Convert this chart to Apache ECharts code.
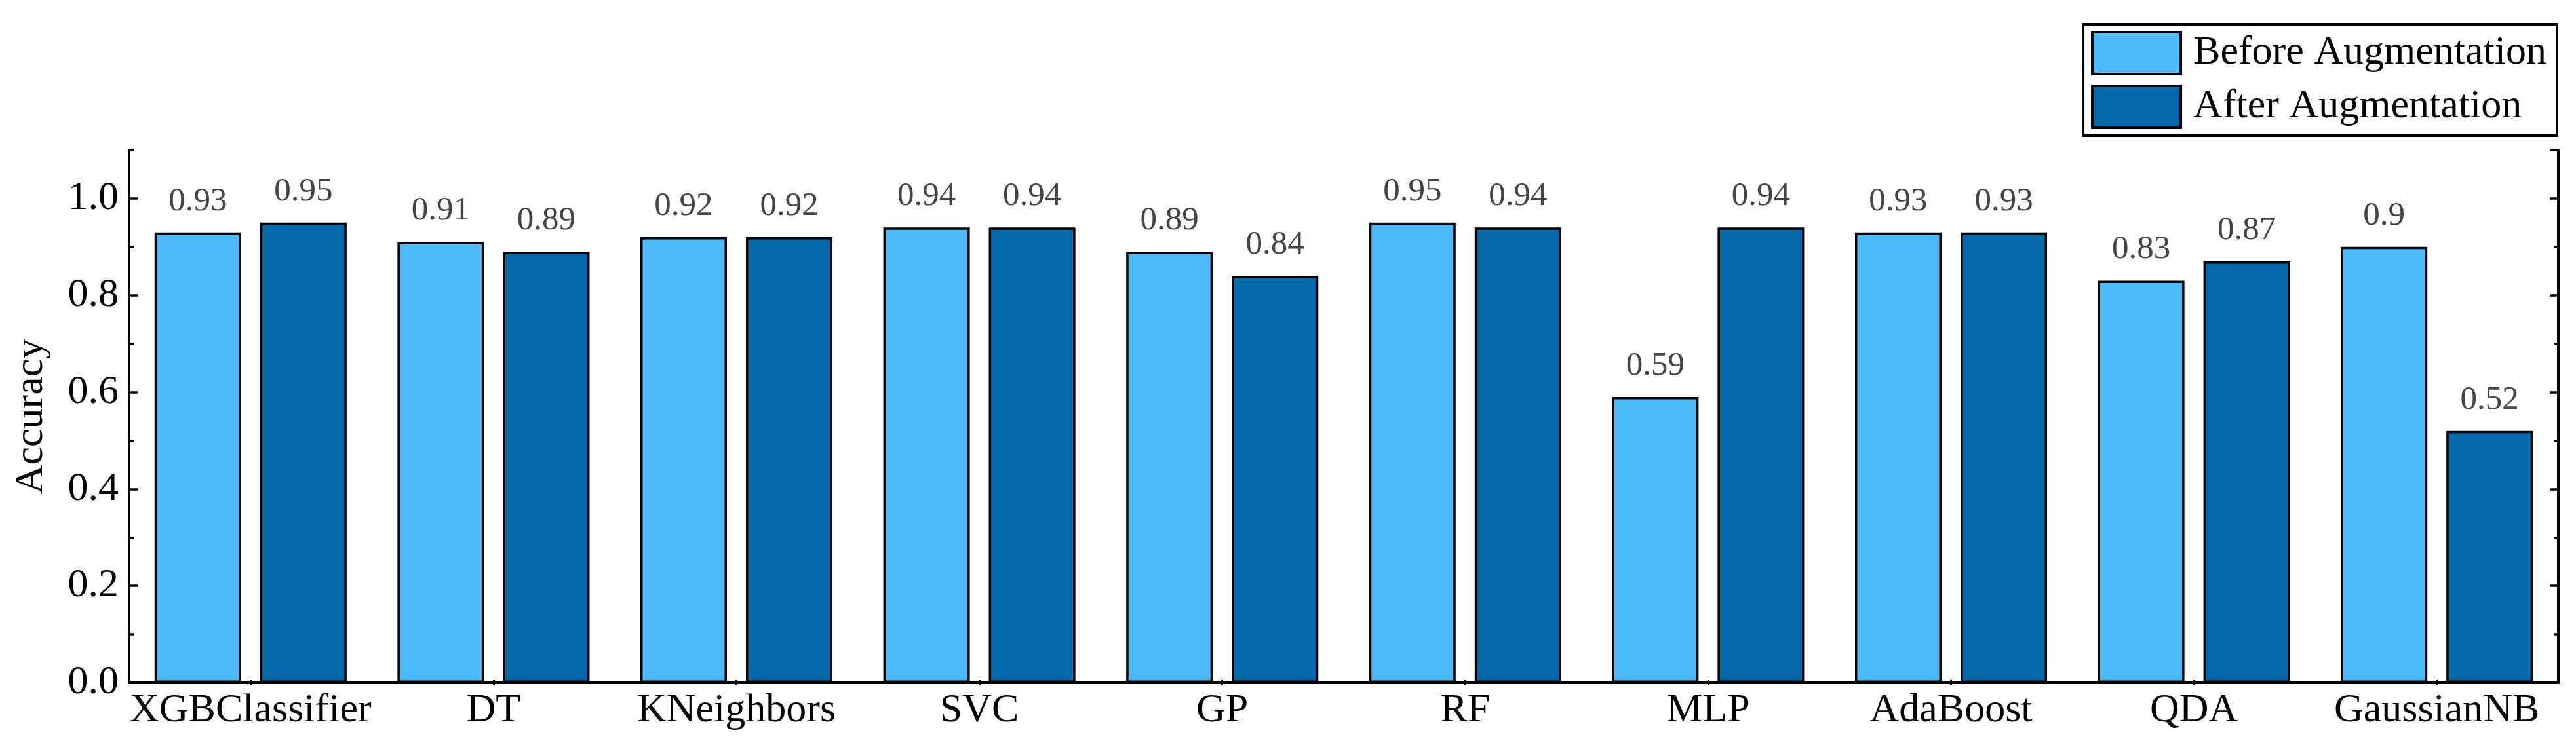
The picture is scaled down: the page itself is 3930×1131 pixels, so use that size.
<!DOCTYPE html>
<html>
<head>
<meta charset="utf-8">
<script src="https://cdn.jsdelivr.net/npm/echarts@6/dist/echarts.min.js"></script>
<style>
html,body{margin:0;padding:0;background:#fff;}
#chart{width:3930px;height:1131px;}
</style>
</head>
<body>
<div id="chart"></div>
<script>
const categories = ['XGBClassifier','DT','KNeighbors','SVC','GP','RF','MLP','AdaBoost','QDA','GaussianNB'];
const beforeAug = [0.93,0.91,0.92,0.94,0.89,0.95,0.59,0.93,0.83,0.9];
const afterAug  = [0.95,0.89,0.92,0.94,0.84,0.94,0.94,0.93,0.87,0.52];
const seriesNames = ['Before Augmentation','After Augmentation'];
const yTicks = [0,0.2,0.4,0.6,0.8,1.0];

const FONT = "'Liberation Serif','Times New Roman',serif";
const chart = echarts.init(document.getElementById('chart'), null, {renderer:'canvas'});

function yAx(pos, interval, len, withLabel, withLine){
  return {
    type:'value', position:pos, min:0, max:1.1, interval:interval,
    axisLine:{show:withLine, lineStyle:{color:'#000', width:4}},
    axisTick:{show:true, inside:true, length:len, lineStyle:{color:'#000', width:3.5}},
    axisLabel:{show:withLabel, showMaxLabel:false, margin:16, fontFamily:FONT, fontSize:62, color:'#000',
      formatter:function(v){return v.toFixed(1);}},
    splitLine:{show:false},
    name: withLabel ? 'Accuracy' : '',
    nameLocation:'middle', nameGap:118,
    nameTextStyle:{fontFamily:FONT, fontSize:62, color:'#000'}
  };
}

const barStyleBase = {borderColor:'#000', borderWidth:3.5};
const labelBase = {show:true, position:'top', distance:22, fontFamily:FONT, fontSize:51, color:'#444'};

chart.setOption({
  animation:false,
  backgroundColor:'#fff',
  grid:{left:197, right:27, top:229, bottom:89, containLabel:false},
  legend:{
    right:29, top:37, orient:'vertical',
    data:seriesNames,
    itemWidth:135, itemHeight:64, itemGap:14,
    padding:[10,16,10,12],
    borderColor:'#000', borderWidth:4,
    icon:'rect',
    itemStyle:{borderColor:'#000', borderWidth:4},
    textStyle:{fontFamily:FONT, fontSize:62, color:'#000', padding:[0,0,0,14]}
  },
  xAxis:[
    {type:'category', data:categories, position:'bottom',
      axisLine:{lineStyle:{color:'#000', width:4}},
      axisTick:{show:true, inside:true, alignWithLabel:true, length:4, lineStyle:{color:'#000', width:3}},
      axisLabel:{fontFamily:FONT, fontSize:62, color:'#000', margin:12, interval:0}},
    {type:'category', data:categories, position:'top',
      axisLine:{lineStyle:{color:'#000', width:4}},
      axisTick:{show:true, inside:true, alignWithLabel:true, length:4, lineStyle:{color:'#000', width:3}},
      axisLabel:{show:false}}
  ],
  yAxis:[
    yAx('left', 0.2, 13, true, true),
    yAx('left', 0.1, 7, false, false),
    yAx('right', 0.2, 13, false, true),
    yAx('right', 0.1, 7, false, false)
  ],
  series:[
    {name:seriesNames[0], type:'bar', data:beforeAug, barWidth:132, barGap:'22%',
      itemStyle:Object.assign({color:'#4DBBFC'}, barStyleBase), label:labelBase},
    {name:seriesNames[1], type:'bar', data:afterAug, barWidth:132, barGap:'22%',
      itemStyle:Object.assign({color:'#046AAB'}, barStyleBase), label:labelBase}
  ]
});
</script>
</body>
</html>
